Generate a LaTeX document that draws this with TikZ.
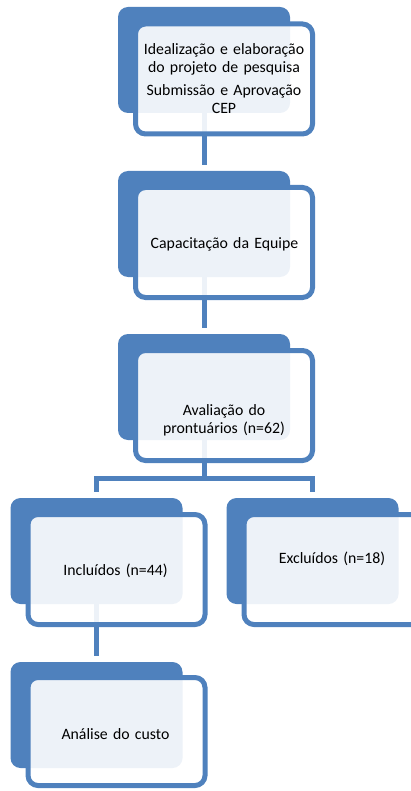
\documentclass[tikz,border=0pt]{standalone}
\usepackage{fontspec}
\setmainfont{Carlito}
\definecolor{accent}{HTML}{4F81BD}
\begin{document}
\begin{tikzpicture}[x=1pt,y=-1pt,
  darkbox/.style={fill=accent, draw=none, rounded corners=10pt, inner sep=0pt,
    minimum width=172pt, minimum height=106pt},
  frontbox/.style={draw=accent, line width=5pt, fill=white, fill opacity=0.9,
    rounded corners=10pt, inner sep=0pt, minimum width=177pt, minimum height=110pt},
  conn/.style={draw=accent, line width=5pt},
  label/.style={font=\fontsize{15.8}{18}\selectfont, text=black, inner sep=0pt,
    anchor=base, text width=180pt, align=center}]
\useasboundingbox (0,0) rectangle (411,791);
\clip (0,0) rectangle (411,791);
% back boxes
\node[darkbox] (d1) at (204,60) {};
\node[darkbox] (d2) at (204,224) {};
\node[darkbox] (d3) at (204,387) {};
\node[darkbox] (d4) at (96.5,551) {};
\node[darkbox] (d5) at (312.5,551) {};
\node[darkbox] (d6) at (96.5,715) {};
% connectors (behind the front boxes)
\coordinate (bar) at (204,478.5);
\draw[conn] (d1.south) -- ([yshift=6pt]d2.north);
\draw[conn] (d2.south) -- ([yshift=6pt]d3.north);
\draw[conn] (d3.south) -- (bar);
\draw[conn] ([yshift=6pt]d4.north) |- (bar) -| ([yshift=6pt]d5.north);
\draw[conn] (d4.south) -- ([yshift=6pt]d6.north);
% redraw back boxes over connector starts
% front boxes
\node[frontbox] (f1) at (224,79) {};
\node[frontbox] (f2) at (224,242.5) {};
\node[frontbox] (f3) at (224,405.5) {};
\node[frontbox] (f4) at (116.5,569.5) {};
\node[frontbox] (f5) at (332.5,569.5) {};
\node[frontbox, minimum height=108pt] (f6) at (116.5,731.5) {};
% texts
\node[label] (t1) at (224,55) {Idealização e elaboração\\do projeto de pesquisa\\[4.3pt]Submissão e Aprovação\\CEP};
\node[label] (t2) at (224.5,248.5) {Capacitação da Equipe};
\node[label] (t3) at (224,415) {Avaliação do\\prontuários (n=62)};
\node[label] (t4) at (115.5,575) {Incluídos (n=44)};
\node[label] (t5) at (332,563.3) {Excluídos (n=18)};
\node[label] (t6) at (115.5,739) {Análise do custo};
\end{tikzpicture}
\end{document}
